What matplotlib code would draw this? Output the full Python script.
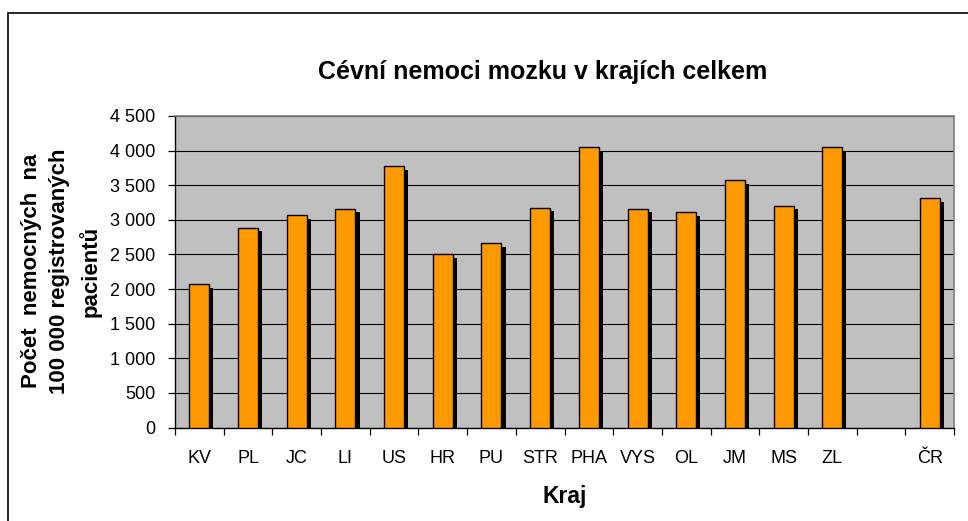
import matplotlib
matplotlib.use("Agg")
import matplotlib.pyplot as plt
import numpy as np
from matplotlib.patches import Rectangle
from matplotlib.ticker import FuncFormatter, MultipleLocator

plt.rcParams['font.family'] = ['Liberation Sans', 'DejaVu Sans']

# data
regions = ['KV', 'PL', 'JC', 'LI', 'US', 'HR', 'PU', 'STR', 'PHA', 'VYS',
           'OL', 'JM', 'MS', 'ZL', '', 'ČR']
rate = [2072, 2884, 3066, 3159, 3775, 2500, 2663, 3178, 4048, 3159,
        3110, 3572, 3207, 4048, np.nan, 3312]

fig = plt.figure(figsize=(9.68, 5.21), dpi=100)
ax = fig.add_axes([175 / 968, 1 - 427.5 / 521, 779 / 968, 311.5 / 521])

x = np.arange(len(regions))
vals = np.array(rate, dtype=float)

# black drop shadow behind each bar (Excel look)
ax.bar(x + 0.085, vals - 50, width=0.41, color='black', zorder=3)
ax.bar(x, vals, width=0.41, color='#FF9900', edgecolor='black',
       linewidth=1.0, zorder=4)

ax.set_facecolor('#C0C0C0')
ax.set_xlim(-0.5, len(regions) - 0.5)
ax.set_ylim(0, 4500)
ax.yaxis.set_major_locator(MultipleLocator(500))
ax.yaxis.set_major_formatter(FuncFormatter(lambda v, p: f'{int(v):,}'.replace(',', ' ')))
ax.grid(axis='y', color='black', linewidth=0.8, zorder=1)
ax.set_axisbelow(True)

ax.set_xticks(x)
ax.set_xticklabels(regions)
ax.set_xticks(np.arange(len(regions) + 1) - 0.5, minor=True)
ax.tick_params(axis='x', which='major', length=0, pad=16, labelsize=13)
ax.tick_params(axis='x', which='minor', length=5, width=0.9, direction='out')
ax.tick_params(axis='y', length=5, width=0.9, direction='out', pad=9,
               labelsize=13)

for side in ['top', 'right']:
    ax.spines[side].set_color('#808080')
    ax.spines[side].set_linewidth(1.2)
for side in ['left', 'bottom']:
    ax.spines[side].set_color('black')
    ax.spines[side].set_linewidth(1.0)

fig.text(543 / 968, 1 - 72 / 521, 'Cévní nemoci mozku v krajích celkem',
         ha='center', va='center', fontsize=18, fontweight='bold')
fig.text(61 / 968, 1 - 271 / 521,
         'Počet  nemocných  na\n100 000 registrovaných\npacientů',
         ha='center', va='center', rotation=90, multialignment='center',
         fontsize=16, fontweight='bold', linespacing=1.45)
fig.text(565 / 968, 1 - 497 / 521, 'Kraj', ha='center', va='center',
         fontsize=16.5, fontweight='bold')

# outer chart frame, cut off at right and bottom like the reference
fig.patches.append(Rectangle((8 / 968, -0.1), 1.2, 1.1 - 13 / 521,
                             transform=fig.transFigure, fill=False,
                             edgecolor='black', linewidth=1.2))

fig.savefig('out.png', dpi=100, facecolor='white')
